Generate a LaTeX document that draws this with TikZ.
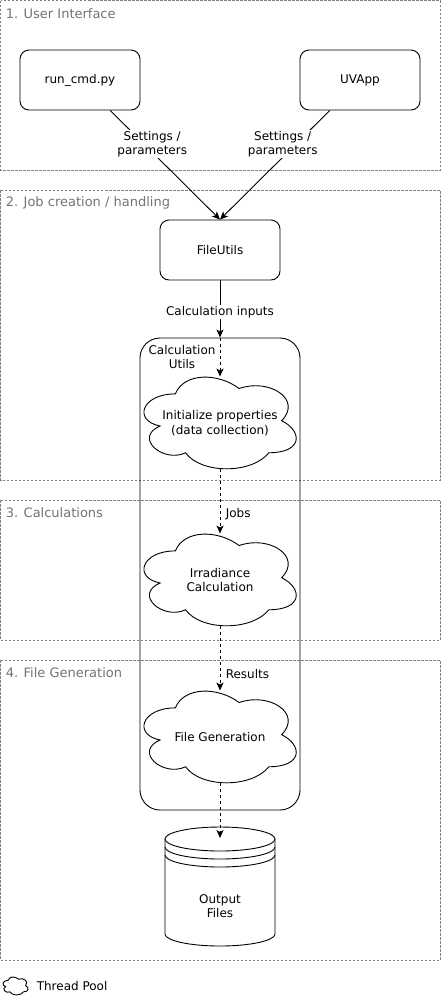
\documentclass[tikz,border=0pt]{standalone}
\usepackage{fontspec}
\setmainfont{DejaVu Sans}
\usetikzlibrary{arrows.meta,calc}

% thread pool cloud drawn round a node centre
\newcommand\poolcloud[3]{%
  \begin{scope}[shift={(#1)},x=#2,y=-#3,shift={(-0.5125,-0.522)}]
    \draw (0.25,0.25) .. controls (0.05,0.25) and (0,0.5) .. (0.16,0.55)
      .. controls (0,0.66) and (0.18,0.9) .. (0.31,0.8)
      .. controls (0.4,1) and (0.7,1) .. (0.8,0.8)
      .. controls (1,0.8) and (1,0.6) .. (0.875,0.5)
      .. controls (1,0.3) and (0.8,0.1) .. (0.625,0.2)
      .. controls (0.5,0.05) and (0.3,0.05) .. (0.25,0.25) -- cycle;
  \end{scope}}

\begin{document}
\begin{tikzpicture}[x=1pt,y=-1pt,line width=0.9pt,font=\fontsize{12}{14.5}\selectfont,
    lane/.style={draw=black!50,dash pattern=on 2.5pt off 1.5pt},
    lanelbl/.style={anchor=west,text=black!55,font=\fontsize{13}{15}\selectfont},
    box/.style={draw,rounded corners=9pt,minimum width=120pt,minimum height=60pt},
    pool/.style={minimum width=152pt,minimum height=92pt,align=center,inner sep=0pt},
    lbl/.style={fill=white,align=center,inner sep=1pt},
    flow/.style={-{Stealth[length=8pt,width=7pt,inset=2pt]}},
    job/.style={flow,dash pattern=on 3pt off 3pt}]
  \useasboundingbox (0,0) rectangle (442,997);

  % lanes
  \draw[lane] (0.5,0.5) rectangle (440,170);
  \draw[lane] (0.5,190) rectangle (440,480);
  \draw[lane] (0.5,500) rectangle (440,640);
  \draw[lane] (0.5,660) rectangle (440,960);
  \node[lanelbl] (ui) at (2,14) {1. User Interface};
  \node[lanelbl] (jobs) at (2,203) {2. Job creation / handling};
  \node[lanelbl] (calc) at (2,513) {3. Calculations};
  \node[lanelbl] (fgen) at (2,673) {4. File Generation};

  % boxes
  \node[box] (run) at (80,80) {run\_cmd.py};
  \node[box] (uv) at (360,80) {UVApp};
  \node[box] (fu) at (220,250) {FileUtils};

  \node[draw,rounded corners=20pt,minimum width=160pt,minimum height=472pt] (cu) at (220,574) {};
  \node[align=center] (culbl) at (182,357) {Calculation\\Utils};

  \node[pool] (init) at (220,423) {Initialize properties\\(data collection)};
  \node[pool] (irr) at (220,580) {Irradiance\\Calculation};
  \node[pool] (gen) at (220,737) {File Generation};
  \poolcloud{init.center}{170pt}{107pt}
  \poolcloud{irr.center}{170pt}{107pt}
  \poolcloud{gen.center}{170pt}{107pt}

  % output files
  \draw (165,839) -- (165,934) arc[start angle=180,end angle=360,x radius=55pt,y radius=12pt] -- (275,839);
  \draw (220,839) ellipse[x radius=55pt,y radius=12pt];
  \draw (165,847) arc[start angle=180,end angle=360,x radius=55pt,y radius=12pt];
  \draw (165,855) arc[start angle=180,end angle=360,x radius=55pt,y radius=12pt];
  \coordinate (out) at (220,838);
  \node[align=center] (files) at (220,906) {Output\\Files};

  % connectors
  \draw[flow] ($(run.south west)!0.75!(run.south east)$) -- node[lbl,pos=0.31,xshift=8pt] {Settings /\\parameters} (fu.north);
  \draw[flow] ($(uv.south west)!0.25!(uv.south east)$) -- node[lbl,pos=0.31,xshift=-13pt] {Settings /\\parameters} (fu.north);
  \draw[flow] (fu.south) -- node[lbl,pos=0.55] {Calculation inputs} (cu.north);
  \draw[job] (cu.north) -- (init.north);
  \draw[job] (init.south) -- node[anchor=west,pos=0.69,xshift=2pt] {Jobs} (irr.north);
  \draw[job] (irr.south) -- node[anchor=west,pos=0.74,xshift=2pt] {Results} (gen.north);
  \draw[job] (gen.south) -- (out);

  % legend
  \poolcloud{15.5,986}{28pt}{21pt}
  \node[anchor=west] (legend) at (33,986) {Thread Pool};
\end{tikzpicture}
\end{document}
